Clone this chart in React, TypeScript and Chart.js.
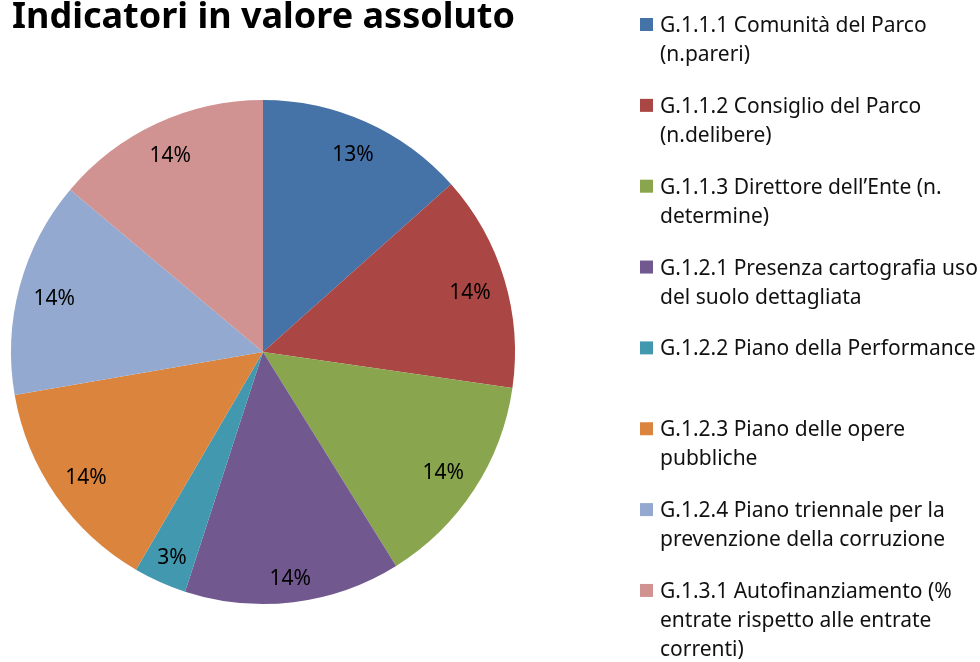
import React, { useEffect, useRef } from "react";
import { Chart, registerables } from "chart.js";

Chart.register(...registerables);

const TITLE = "Indicatori in valore assoluto";

const categories: string[][] = [
  ["G.1.1.1 Comunità del Parco", "(n.pareri)"],
  ["G.1.1.2 Consiglio del Parco", "(n.delibere)"],
  ["G.1.1.3 Direttore dell’Ente (n.", "determine)"],
  ["G.1.2.1 Presenza cartografia uso", "del suolo dettagliata"],
  ["G.1.2.2 Piano della Performance"],
  ["G.1.2.3 Piano delle opere", "pubbliche"],
  ["G.1.2.4 Piano triennale per la", "prevenzione della corruzione"],
  ["G.1.3.1 Autofinanziamento (%", "entrate rispetto alle entrate", "correnti)"],
];

const values: number[] = [13.4, 13.85, 13.85, 13.85, 3.4, 13.85, 13.85, 13.85];

const colors: string[] = [
  "#4572A7",
  "#AA4643",
  "#89A54E",
  "#71588F",
  "#4198AF",
  "#DB843D",
  "#93A9CF",
  "#D19392",
];

const FONT = "'Noto Sans', 'DejaVu Sans', sans-serif";

const overlayPlugin = {
  id: "overlay",
  afterDatasetsDraw(chart: any) {
    const ctx = chart.ctx as CanvasRenderingContext2D;
    const meta = chart.getDatasetMeta(0);
    const data = chart.data.datasets[0].data as number[];
    const total = data.reduce((a, b) => a + b, 0);
    ctx.save();
    // percentage labels (box placed inside the slice end)
    const lblSize = 21;
    ctx.font = `${lblSize}px ${FONT}`;
    ctx.fillStyle = "#000";
    ctx.textAlign = "center";
    ctx.textBaseline = "alphabetic";
    meta.data.forEach((arc: any, i: number) => {
      const p = arc.getProps(["x", "y", "startAngle", "endAngle", "outerRadius"], true);
      const mid = (p.startAngle + p.endAngle) / 2;
      const txt = Math.round((data[i] / total) * 100) + "%";
      const w = ctx.measureText(txt).width + 2;
      const h = 26;
      const cx = Math.cos(mid);
      const cy = Math.sin(mid);
      const ext = Math.abs(cx) * w / 2 + Math.abs(cy) * h / 2;
      const d = p.outerRadius * 0.955 - ext;
      ctx.fillText(txt, p.x + cx * d, p.y + cy * d + lblSize * 0.357 + 2);
    });
    // title
    ctx.font = `bold 36px ${FONT}`;
    ctx.textAlign = "left";
    ctx.fillText(TITLE, 12, 28);
    // legend
    const labels = chart.data.labels as string[][];
    ctx.font = `21px ${FONT}`;
    labels.forEach((lines, i) => {
      const base = 32 + i * 80.85;
      ctx.fillStyle = colors[i];
      ctx.fillRect(640, base - 14, 13, 13);
      ctx.fillStyle = "#111";
      lines.forEach((ln, k) => ctx.fillText(ln, 660, base + k * 29));
    });
    ctx.restore();
  },
};

export default function App() {
  const ref = useRef<HTMLCanvasElement | null>(null);
  useEffect(() => {
    if (!ref.current) return;
    const chart = new Chart(ref.current, {
      type: "pie",
      data: {
        labels: categories,
        datasets: [
          {
            data: values,
            backgroundColor: colors,
            borderWidth: 0,
          },
        ],
      },
      options: {
        responsive: false,
        animation: false,
        layout: { padding: { left: 11, right: 465, top: 100, bottom: 58 } },
        plugins: {
          legend: { display: false },
          tooltip: { enabled: false },
          title: { display: false },
        },
      },
      plugins: [overlayPlugin],
    });
    return () => chart.destroy();
  }, []);
  return (
    <div style={{ position: "absolute", left: 0, top: 0, width: 980, height: 662, background: "#fff" }}>
      <canvas ref={ref} width={980} height={662} />
    </div>
  );
}
